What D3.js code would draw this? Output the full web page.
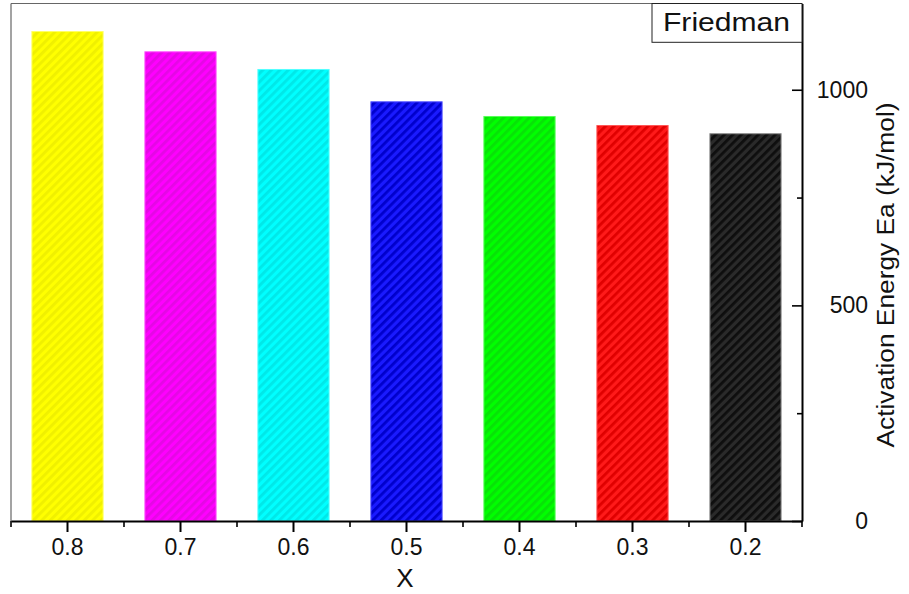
<!DOCTYPE html>
<html>
<head>
<meta charset="utf-8">
<script src="https://cdn.jsdelivr.net/npm/d3@7"></script>
<style>
  html, body { margin: 0; padding: 0; background: #fff; }
  svg { display: block; font-family: "Liberation Sans", Arial, sans-serif; }
</style>
</head>
<body>
<svg id="chart" width="909" height="594"></svg>
<script>
// Friedman activation energy for each composition X
const categories = ["0.8", "0.7", "0.6", "0.5", "0.4", "0.3", "0.2"];
const energies = [1135, 1088, 1047, 972, 938, 917, 898];
const majorTicks = [0, 500, 1000];
const minorTicks = [250, 750];

// bar fill / hatch / edge colours, one per bar
const fills   = ["#ffff00", "#ff00ff", "#00ffff", "#1a1aff", "#00ff00", "#ff1a1a", "#2a2a2a"];
const hatches = ["#f0f000", "#e408e4", "#00e8e8", "#0000cc", "#08e208", "#e00000", "#0e0e0e"];
const edges   = ["#ffff66", "#ff55ff", "#55ffff", "#4d4dff", "#55ff55", "#ff5555", "#8a8a8a"];

const svg = d3.select("#chart");
const plotL = 11, plotR = 802, plotT = 3.5, plotB = 521;

const x = d3.scaleBand().domain(categories).range([plotL, plotR])
  .paddingInner(0.37).paddingOuter(0.185);
const y = d3.scaleLinear().domain([0, 1200]).range([plotB, plotT]);

// diagonal hatch patterns
const defs = svg.append("defs");
categories.forEach((c, i) => {
  const p = defs.append("pattern")
    .attr("id", "hatch" + i)
    .attr("patternUnits", "userSpaceOnUse")
    .attr("width", 6).attr("height", 6)
    .attr("patternTransform", "rotate(45)");
  p.append("rect").attr("width", 6).attr("height", 6).attr("fill", fills[i]);
  p.append("rect").attr("width", 2.8).attr("height", 6).attr("fill", hatches[i]);
});

// frame (top and left)
svg.append("line").attr("x1", plotL).attr("x2", plotR).attr("y1", plotT).attr("y2", plotT)
  .attr("stroke", "#666").attr("stroke-width", 1.2);
svg.append("line").attr("x1", plotL).attr("x2", plotL).attr("y1", plotT).attr("y2", plotB)
  .attr("stroke", "#666").attr("stroke-width", 1.2);

// bars
svg.append("g").selectAll("rect")
  .data(categories)
  .join("rect")
  .attr("x", d => x(d))
  .attr("width", x.bandwidth())
  .attr("y", (d, i) => y(energies[i]))
  .attr("height", (d, i) => y(0) - y(energies[i]))
  .attr("fill", (d, i) => `url(#hatch${i})`)
  .attr("stroke", (d, i) => edges[i])
  .attr("stroke-width", 1);

// bottom axis: major ticks at categories
const xAxis = svg.append("g")
  .attr("transform", `translate(0,${plotB})`)
  .call(d3.axisBottom(x).tickSizeInner(11).tickSizeOuter(0).tickPadding(7));
xAxis.select(".domain").attr("stroke", "#000").attr("stroke-width", 2);
xAxis.selectAll(".tick line").attr("stroke", "#000").attr("stroke-width", 2);
xAxis.selectAll(".tick text").attr("font-size", 23).attr("fill", "#111")
  .attr("font-family", "Liberation Sans, Arial, sans-serif");

// minor ticks at band boundaries
const boundaries = [plotL].concat(categories.map(c => x(c) + x.bandwidth() + x.step() * x.paddingInner() / 2));
boundaries[boundaries.length - 1] = plotR;
svg.append("g").selectAll("line")
  .data(boundaries)
  .join("line")
  .attr("x1", d => d).attr("x2", d => d)
  .attr("y1", plotB).attr("y2", plotB + 6)
  .attr("stroke", "#000").attr("stroke-width", 1.6);

// right axis: ticks point inward, labels right-aligned further out
const yAxis = svg.append("g")
  .attr("transform", `translate(${plotR},0)`)
  .call(d3.axisRight(y).tickValues(majorTicks).tickFormat(d3.format("d"))
    .tickSizeInner(-10).tickSizeOuter(0).tickPadding(0));
yAxis.select(".domain").attr("stroke", "#000").attr("stroke-width", 2);
yAxis.selectAll(".tick line").attr("stroke", "#000").attr("stroke-width", 1.6);
yAxis.selectAll(".tick text")
  .attr("x", 66).attr("text-anchor", "end")
  .attr("font-size", 23).attr("fill", "#111")
  .attr("font-family", "Liberation Sans, Arial, sans-serif");

const yMinor = svg.append("g")
  .attr("transform", `translate(${plotR},0)`)
  .call(d3.axisRight(y).tickValues(minorTicks).tickSizeInner(-5).tickSizeOuter(0).tickFormat(""));
yMinor.select(".domain").remove();
yMinor.selectAll(".tick line").attr("stroke", "#000").attr("stroke-width", 1.6);

// legend box
svg.append("rect").attr("x", 652).attr("y", plotT).attr("width", plotR - 652).attr("height", 42.3 - plotT)
  .attr("fill", "#fff").attr("stroke", "#222").attr("stroke-width", 1);
svg.append("text").attr("x", 663).attr("y", 31)
  .attr("font-size", 25).attr("textLength", 127).attr("lengthAdjust", "spacingAndGlyphs")
  .attr("fill", "#111").text("Friedman");

// axis titles
svg.append("text").attr("x", 405).attr("y", 587).attr("text-anchor", "middle")
  .attr("font-size", 26).attr("fill", "#111").text("X");
svg.append("text")
  .attr("transform", "translate(894,275) rotate(-90)")
  .attr("text-anchor", "middle")
  .attr("font-size", 23).attr("textLength", 345).attr("lengthAdjust", "spacingAndGlyphs")
  .attr("fill", "#111").text("Activation Energy Ea (kJ/mol)");
</script>
</body>
</html>
